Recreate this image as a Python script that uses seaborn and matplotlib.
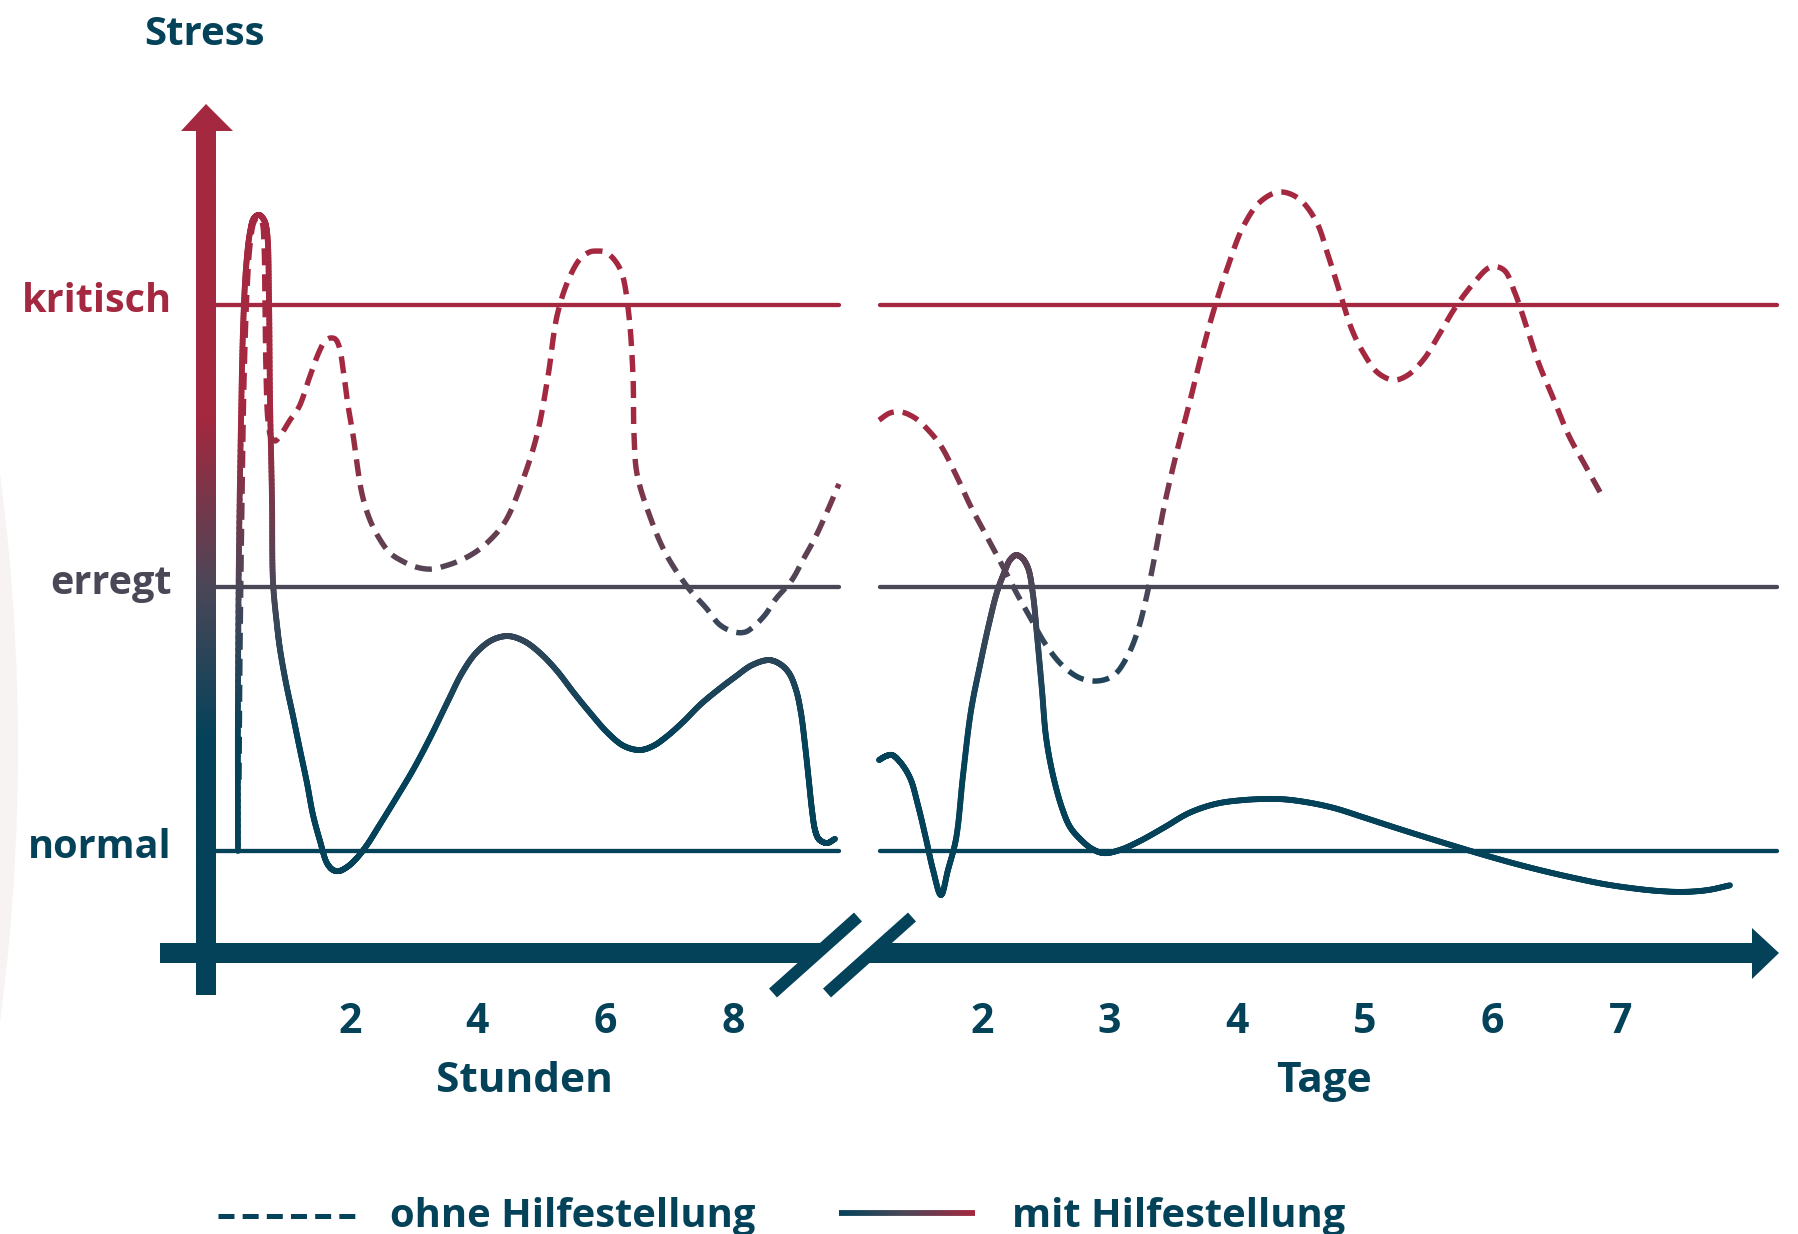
import numpy as np
import pandas as pd
import seaborn as sns
import matplotlib
matplotlib.use("Agg")
import matplotlib.pyplot as plt
from matplotlib.collections import LineCollection
from matplotlib.colors import LinearSegmentedColormap, Normalize
from matplotlib.patches import Polygon, Ellipse

# ---------------- data ----------------
level_names = ["normal", "erregt", "kritisch"]
level_values = [1.0, 2.0, 3.07]
hour_ticks = [2, 4, 6, 8]
day_ticks = [2, 3, 4, 5, 6, 7]

# "mit Hilfestellung" – first hours
hours_mit = [0.25, 0.25, 0.266, 0.298, 0.329, 0.376, 0.439, 0.501, 0.579, 0.658, 0.705, 0.736,
             0.752, 0.783, 0.799, 0.861, 0.908, 1.002, 1.112, 1.222, 1.331, 1.425, 1.535, 1.644,
             1.738, 1.832, 1.958, 2.099, 2.271, 2.459, 2.709, 2.991, 3.258, 3.540, 3.759, 3.978,
             4.229, 4.479, 4.730, 4.980, 5.247, 5.513, 5.779, 6.045, 6.296, 6.547, 6.750, 6.954,
             7.220, 7.486, 7.768, 8.035, 8.301, 8.567, 8.739, 8.880, 8.990, 9.068, 9.131, 9.193,
             9.240, 9.287, 9.335, 9.382, 9.476, 9.601]
stress_hours_mit = [1.00, 1.573, 2.141, 2.634, 2.976, 3.211, 3.347, 3.400, 3.412, 3.393, 3.347, 3.089,
                    2.710, 2.331, 2.020, 1.857, 1.766, 1.637, 1.512, 1.383, 1.258, 1.137, 1.038, 0.954,
                    0.928, 0.924, 0.939, 0.970, 1.023, 1.095, 1.193, 1.307, 1.429, 1.569, 1.675, 1.751,
                    1.800, 1.815, 1.796, 1.751, 1.683, 1.599, 1.520, 1.447, 1.398, 1.383, 1.398, 1.432,
                    1.489, 1.554, 1.611, 1.660, 1.705, 1.724, 1.709, 1.675, 1.611, 1.523, 1.402, 1.262,
                    1.155, 1.080, 1.049, 1.038, 1.030, 1.046]

# "ohne Hilfestellung" – first hours
hours_ohne = [0.266, 0.282, 0.313, 0.345, 0.392, 0.439, 0.501, 0.564, 0.626, 0.658, 0.673, 0.689,
              0.720, 0.767, 0.830, 0.908, 1.065, 1.206, 1.378, 1.519, 1.613, 1.691, 1.770, 1.832,
              1.911, 1.973, 2.052, 2.193, 2.318, 2.459, 2.631, 2.819, 3.038, 3.273, 3.493, 3.712,
              3.947, 4.166, 4.432, 4.699, 4.933, 5.106, 5.247, 5.419, 5.607, 5.764, 5.873, 5.998,
              6.092, 6.202, 6.280, 6.374, 6.437, 6.453, 6.500, 6.688, 6.954, 7.314, 7.580, 7.800,
              8.035, 8.191, 8.301, 8.504, 8.661, 8.927, 9.099, 9.287, 9.475, 9.663]
stress_hours_ohne = [1.27, 1.762, 2.331, 2.786, 3.127, 3.298, 3.385, 3.404, 3.385, 3.298, 3.089, 2.824,
                     2.634, 2.570, 2.555, 2.574, 2.634, 2.684, 2.801, 2.892, 2.934, 2.945, 2.942, 2.915,
                     2.801, 2.691, 2.578, 2.354, 2.255, 2.187, 2.130, 2.100, 2.077, 2.069, 2.081, 2.100,
                     2.130, 2.172, 2.248, 2.399, 2.578, 2.801, 3.029, 3.162, 3.245, 3.272, 3.275, 3.272,
                     3.256, 3.222, 3.177, 3.029, 2.801, 2.578, 2.430, 2.278, 2.126, 1.994, 1.922, 1.857,
                     1.830, 1.830, 1.846, 1.895, 1.952, 2.028, 2.104, 2.187, 2.286, 2.392]

# "mit Hilfestellung" – days
days_mit = [1.195, 1.250, 1.297, 1.359, 1.438, 1.500, 1.563, 1.618, 1.680, 1.735, 1.798, 1.853,
            1.915, 1.986, 2.056, 2.119, 2.174, 2.221, 2.268, 2.315, 2.362, 2.401, 2.432, 2.471,
            2.503, 2.557, 2.628, 2.691, 2.769, 2.863, 2.957, 3.082, 3.239, 3.434, 3.622, 3.826,
            4.045, 4.327, 4.531, 4.758, 4.993, 5.228, 5.470, 5.705, 5.940, 6.175, 6.410, 6.645,
            6.880, 7.123, 7.311, 7.499, 7.687, 7.859]
stress_days_mit = [1.345, 1.360, 1.364, 1.338, 1.277, 1.174, 1.046, 0.928, 0.833, 0.928, 1.046, 1.288,
                   1.531, 1.705, 1.861, 1.982, 2.054, 2.104, 2.122, 2.111, 2.073, 1.971, 1.819, 1.611,
                   1.432, 1.288, 1.163, 1.091, 1.046, 1.008, 0.992, 1.004, 1.038, 1.091, 1.144, 1.178,
                   1.193, 1.197, 1.186, 1.163, 1.127, 1.090, 1.053, 1.018, 0.984, 0.952, 0.923, 0.897,
                   0.874, 0.857, 0.848, 0.845, 0.852, 0.870]

# "ohne Hilfestellung" – days
days_ohne = [1.195, 1.281, 1.367, 1.477, 1.579, 1.680, 1.798, 1.915, 2.033, 2.150, 2.268, 2.385,
             2.503, 2.628, 2.769, 2.910, 3.035, 3.145, 3.223, 3.286, 3.356, 3.427, 3.521, 3.622,
             3.716, 3.810, 3.928, 4.045, 4.178, 4.327, 4.476, 4.617, 4.711, 4.805, 4.899, 4.993,
             5.102, 5.228, 5.337, 5.463, 5.588, 5.705, 5.846, 5.987, 6.089, 6.175, 6.269, 6.363,
             6.481, 6.598, 6.723, 6.841]
stress_days_ohne = [2.634, 2.661, 2.665, 2.642, 2.597, 2.536, 2.426, 2.305, 2.198, 2.092, 1.982, 1.880,
                    1.781, 1.705, 1.656, 1.645, 1.667, 1.743, 1.838, 1.956, 2.122, 2.305, 2.502, 2.691,
                    2.873, 3.040, 3.218, 3.366, 3.461, 3.499, 3.476, 3.389, 3.260, 3.116, 2.976, 2.885,
                    2.813, 2.786, 2.805, 2.866, 2.964, 3.059, 3.150, 3.215, 3.203, 3.116, 2.983, 2.847,
                    2.710, 2.574, 2.464, 2.361]

# ---------------- style ----------------
TEAL = "#04425A"
GRAY = "#4A4757"
CRIMSON = "#A4283F"
sns.set_theme(style="white")
plt.rcParams['font.family'] = ['Open Sans', 'DejaVu Sans']
plt.rcParams['lines.scale_dashes'] = False

cmap = LinearSegmentedColormap.from_list("stress", [(0.0, TEAL), (0.47, GRAY), (1.0, CRIMSON)])
norm = Normalize(vmin=1.42, vmax=2.65)

DAY_OFFSET = 3.95            # position of "day 0" on the shared horizontal scale
def hpos(h):
    return np.asarray(h, float) / 2.0
def dpos(d):
    return np.asarray(d, float) + DAY_OFFSET

# pixel -> data helpers (layout only)
def X(px):
    return (px - 222) / 127.7
def Y(py):
    return 1 + (851 - py) / 263.7

fig = plt.figure(figsize=(17.98, 12.34), dpi=100)
ax = fig.add_axes([0, 0, 1, 1])

def set_limits():
    ax.set_xlim(X(0), X(1798))
    ax.set_ylim(Y(1234), Y(0))
set_limits()

# faint background shape
ax.add_patch(Ellipse((X(-2107), Y(748)), 2 * 2125 / 127.7, 2 * 2125 / 263.7,
                     facecolor="#F8F3F3", edgecolor="none", zorder=0))

# reference level lines (seaborn)
rows = []
for name, val in zip(level_names, level_values):
    for seg, (a, b) in enumerate([(X(207), X(839)), (X(880), X(1777))]):
        rows.append(dict(x=a, y=val, level=name, seg=f"{name}{seg}"))
        rows.append(dict(x=b, y=val, level=name, seg=f"{name}{seg}"))
levels_df = pd.DataFrame(rows)
sns.lineplot(data=levels_df, x="x", y="y", hue="level", units="seg", estimator=None,
             palette={"normal": TEAL, "erregt": GRAY, "kritisch": CRIMSON},
             linewidth=3.1, legend=False, ax=ax, zorder=2)
set_limits()

# ---------------- curve helpers ----------------
def catmull_rom(P, n=24, alpha=0.5):
    P = np.asarray(P, float)
    P = np.vstack([2 * P[0] - P[1], P, 2 * P[-1] - P[-2]])
    out = []
    for i in range(1, len(P) - 2):
        p0, p1, p2, p3 = P[i - 1], P[i], P[i + 1], P[i + 2]
        t0 = 0.0
        t1 = t0 + max(np.linalg.norm(p1 - p0), 1e-6) ** alpha
        t2 = t1 + max(np.linalg.norm(p2 - p1), 1e-6) ** alpha
        t3 = t2 + max(np.linalg.norm(p3 - p2), 1e-6) ** alpha
        t = np.linspace(t1, t2, n, endpoint=False)[:, None]
        A1 = (t1 - t) / (t1 - t0) * p0 + (t - t0) / (t1 - t0) * p1
        A2 = (t2 - t) / (t2 - t1) * p1 + (t - t1) / (t2 - t1) * p2
        A3 = (t3 - t) / (t3 - t2) * p2 + (t - t2) / (t3 - t2) * p3
        B1 = (t2 - t) / (t2 - t0) * A1 + (t - t0) / (t2 - t0) * A2
        B2 = (t3 - t) / (t3 - t1) * A2 + (t - t1) / (t3 - t1) * A3
        C = (t2 - t) / (t2 - t1) * B1 + (t - t1) / (t2 - t1) * B2
        out.append(C)
    out.append(P[-2][None, :])
    return np.vstack(out)

def dense_display(xd, yd):
    disp = ax.transData.transform(np.column_stack([xd, yd]))
    pts = catmull_rom(disp)
    d = np.hypot(*np.diff(pts, axis=0).T)
    s = np.concatenate([[0], np.cumsum(d)])
    return pts, s

inv = ax.transData.inverted()
LW_SOLID = 4.2
LW_DASH = 3.9

def draw_solid(xd, yd):
    pts, s = dense_display(xd, yd)
    data = inv.transform(pts)
    segs = np.stack([data[:-1], data[1:]], axis=1)
    cols = cmap(norm(0.5 * (data[:-1, 1] + data[1:, 1])))
    ax.add_collection(LineCollection(segs, colors=cols, linewidths=LW_SOLID,
                                     capstyle="round", joinstyle="round", zorder=4))

def draw_dashed(xd, yd, dash=17.0, gap=9.0, phase=0.0):
    pts, s = dense_display(xd, yd)
    segs, cols = [], []
    start = phase
    while start < s[-1]:
        end = min(start + dash, s[-1])
        ss = np.concatenate([[start], s[(s > start) & (s < end)], [end]])
        p = np.column_stack([np.interp(ss, s, pts[:, 0]), np.interp(ss, s, pts[:, 1])])
        data = inv.transform(p)
        segs.append(data)
        cols.append(cmap(norm(data[:, 1].mean())))
        start += dash + gap
    ax.add_collection(LineCollection(segs, colors=cols, linewidths=LW_DASH,
                                     capstyle="butt", joinstyle="round", zorder=3))

draw_dashed(hpos(hours_ohne), stress_hours_ohne)
draw_dashed(dpos(days_ohne), stress_days_ohne)
draw_solid(hpos(hours_mit), stress_hours_mit)
draw_solid(dpos(days_mit), stress_days_mit)

# ---------------- axes drawn as arrows ----------------
grad = np.linspace(Y(995), Y(130), 400)[:, None]
ax.imshow(grad, extent=[X(196), X(216), Y(995), Y(130)], origin="lower",
          cmap=cmap, norm=norm, aspect="auto", zorder=5, interpolation="bilinear")
ax.add_patch(Polygon([(X(181), Y(131)), (X(233), Y(131)), (X(206), Y(104))],
                     closed=True, facecolor=CRIMSON, edgecolor="none", zorder=5))
ax.add_patch(Polygon([(X(160), Y(943)), (X(829), Y(943)), (X(808), Y(963)), (X(160), Y(963))],
                     closed=True, facecolor=TEAL, edgecolor="none", zorder=5))
ax.add_patch(Polygon([(X(883), Y(943)), (X(1753), Y(943)), (X(1753), Y(963)), (X(861), Y(963))],
                     closed=True, facecolor=TEAL, edgecolor="none", zorder=5))
ax.add_patch(Polygon([(X(1752), Y(928)), (X(1752), Y(979)), (X(1779), Y(953))],
                     closed=True, facecolor=TEAL, edgecolor="none", zorder=5))
for x0 in (773, 827):
    ax.plot([X(x0), X(x0 + 85)], [Y(993), Y(917)], color=TEAL, lw=8.6,
            solid_capstyle="butt", zorder=6)
set_limits()

# ---------------- texts ----------------
FS = 29.5
FS_LEG = 28.7
ax.text(X(204), Y(45), "Stress", ha="center", va="baseline", fontsize=29,
        fontweight="bold", color=TEAL)
for name, val, col in zip(level_names, level_values, [TEAL, GRAY, CRIMSON]):
    ax.text(X(172), val - 7 / 263.7, name, ha="right", va="baseline", fontsize=28.5,
            fontweight="bold", color=col)
for h in hour_ticks:
    ax.text(hpos(h), Y(1033), str(h), ha="center", va="baseline", fontsize=FS,
            fontweight="bold", color=TEAL)
for d in day_ticks:
    ax.text(dpos(d), Y(1033), str(d), ha="center", va="baseline", fontsize=FS,
            fontweight="bold", color=TEAL)
ax.text(X(524), Y(1092), "Stunden", ha="center", va="baseline", fontsize=30.5,
        fontweight="bold", color=TEAL)
ax.text(X(1324), Y(1092), "Tage", ha="center", va="baseline", fontsize=30.5,
        fontweight="bold", color=TEAL)

# ---------------- legend ----------------
ax.plot([X(218), X(355)], [Y(1216), Y(1216)], color=TEAL, lw=3.6,
        dashes=(11.5, 5.9), dash_capstyle="butt", zorder=5)
lx = np.linspace(X(839), X(975), 120)
lsegs = np.stack([np.column_stack([lx[:-1], np.full(119, Y(1213))]),
                  np.column_stack([lx[1:], np.full(119, Y(1213))])], axis=1)
ax.add_collection(LineCollection(lsegs, colors=cmap(np.linspace(0, 1, 119)),
                                 linewidths=4.2, capstyle="butt", zorder=5))
ax.text(X(390), Y(1227), "ohne Hilfestellung", ha="left", va="baseline", fontsize=FS_LEG,
        fontweight="bold", color=TEAL)
ax.text(X(1012), Y(1227), "mit Hilfestellung", ha="left", va="baseline", fontsize=FS_LEG,
        fontweight="bold", color=TEAL)

set_limits()
ax.axis("off")
fig.savefig("out.png", dpi=100, facecolor="white")
